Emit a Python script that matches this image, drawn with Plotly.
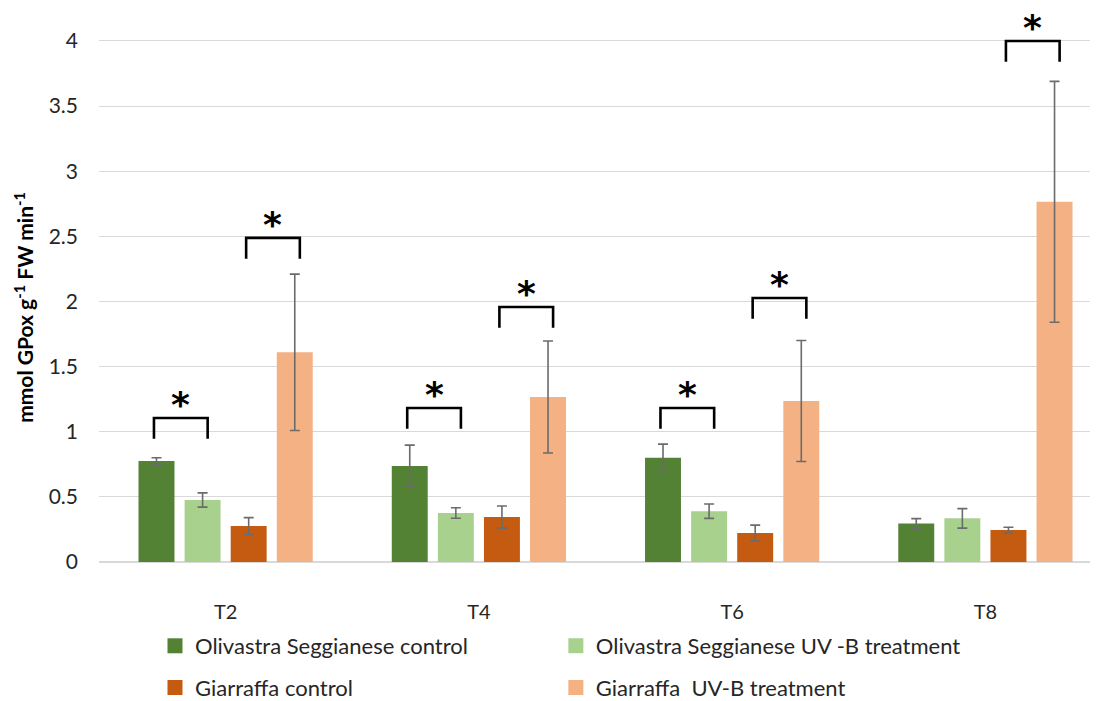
import plotly.graph_objects as go

categories = ["T2", "T4", "T6", "T8"]
series_names = ["Olivastra Seggianese control", "Olivastra Seggianese UV -B treatment",
                "Giarraffa control", "Giarraffa  UV-B treatment"]
olivastra_control = [0.775, 0.737, 0.80, 0.295]
olivastra_control_err = [0.025, 0.16, 0.105, 0.038]
olivastra_uvb = [0.476, 0.376, 0.39, 0.335]
olivastra_uvb_err = [0.055, 0.04, 0.055, 0.075]
giarraffa_control = [0.276, 0.345, 0.223, 0.245]
giarraffa_control_err = [0.065, 0.085, 0.06, 0.022]
giarraffa_uvb = [1.61, 1.267, 1.236, 2.765]
giarraffa_uvb_err = [0.60, 0.43, 0.465, 0.925]
colors = ["#548235", "#A9D18E", "#C55A11", "#F4B183"]

# significance brackets: (category index, first bar, second bar, bracket top value)
brackets = [(0, 0, 1, 1.106), (0, 2, 3, 2.488),
            (1, 0, 1, 1.182), (1, 2, 3, 1.958),
            (2, 0, 1, 1.182), (2, 2, 3, 2.027),
            (3, 2, 3, 4.0)]

values = [olivastra_control, olivastra_uvb, giarraffa_control, giarraffa_uvb]
errors = [olivastra_control_err, olivastra_uvb_err, giarraffa_control_err, giarraffa_uvb_err]
legend_ids = ["legend", "legend2", "legend3", "legend4"]
# legend placement (plot-area fractions): 2 columns x 2 rows
legend_x = [0.0565, 0.461, 0.0565, 0.461]
legend_y = [-0.1137, -0.1137, -0.189, -0.189]

fig = go.Figure()
for name, v, e, c in zip(series_names, values, errors, colors):
    fig.add_trace(go.Bar(
        x=categories, y=v, name=name, marker_color=c, marker_line_width=0,
        error_y=dict(type="data", array=e, color="#6b6b6b", thickness=1.6, width=5),
        showlegend=False,
    ))
# legend entries with larger square swatches
for name, c, lg in zip(series_names, colors, legend_ids):
    fig.add_trace(go.Scatter(
        x=[None], y=[None], mode="markers", name=name,
        marker=dict(symbol="square", size=15, color=c), legend=lg, showlegend=True,
    ))

bargap = 0.272
step = (1 - bargap) / 4
leg_h = 0.16
for ci, b1, b2, top in brackets:
    x1 = ci + (b1 - 1.5) * step - 0.01
    x2 = ci + (b2 - 1.5) * step + 0.02
    fig.add_shape(type="path",
                  path=f"M {x1} {top - leg_h} L {x1} {top} L {x2} {top} L {x2} {top - leg_h}",
                  xref="x", yref="y", line=dict(color="black", width=2.6))
    fig.add_annotation(x=(x1 + x2) / 2, y=top, xref="x", yref="y", text="<b>*</b>",
                       showarrow=False, yanchor="bottom", yshift=-9,
                       font=dict(family="DejaVu Sans", size=36, color="black"))

fig.add_annotation(text="<b>mmol GPox g<sup>-1</sup> FW min<sup>-1</sup></b>",
                   xref="paper", yref="paper", x=-0.076, y=0.46, textangle=-90,
                   showarrow=False, xanchor="center", yanchor="middle",
                   font=dict(family="Lato", size=21, color="black"))

legend_layout = {}
for lg, lx, ly in zip(legend_ids, legend_x, legend_y):
    legend_layout[lg] = dict(orientation="h", x=lx, y=ly, xanchor="left", yanchor="top",
                             itemsizing="trace",
                             font=dict(family="Lato", size=22, color="#262626"),
                             bgcolor="rgba(0,0,0,0)")

fig.update_layout(
    width=1091, height=693,
    margin=dict(l=91, r=9, t=0, b=139, autoexpand=False),
    paper_bgcolor="white", plot_bgcolor="white",
    barmode="group", bargap=bargap, bargroupgap=0.22,
    font=dict(family="Lato", size=20, color="#262626"),
    xaxis=dict(range=[-0.5, 3.413], showgrid=False, showline=False, zeroline=False,
               ticks="", ticklabelstandoff=36, tickfont=dict(size=20, color="#262626")),
    yaxis=dict(range=[0, 4.253], tickvals=[0, 0.5, 1, 1.5, 2, 2.5, 3, 3.5, 4],
               ticktext=["0", "0.5", "1", "1.5", "2", "2.5", "3", "3.5", "4"],
               showgrid=True, gridcolor="#d9d9d9", gridwidth=1.3, zeroline=True,
               zerolinecolor="#d9d9d9", zerolinewidth=1.5, showline=False,
               ticks="", ticklabelstandoff=20, tickfont=dict(size=21, color="#262626")),
    showlegend=True,
    **legend_layout,
)

fig.write_html("out.html")
